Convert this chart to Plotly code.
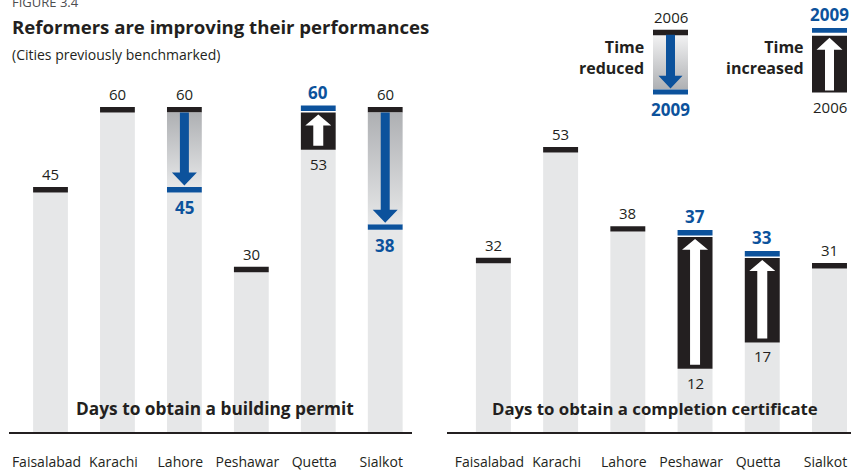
import plotly.graph_objects as go

# Days to obtain a building permit / completion certificate, 2006 vs 2009
cities = ["Faisalabad", "Karachi", "Lahore", "Peshawar", "Quetta", "Sialkot"]
permit_2006 = [45, 60, 60, 30, 53, 60]
permit_2009 = [45, 60, 45, 30, 60, 38]
cert_2006 = [32, 53, 38, 12, 17, 31]
cert_2009 = [32, 53, 38, 37, 33, 31]

W, H = 851, 471
INK = "#231f20"
BLUE = "#0c529c"
GRAY = "#e6e7e8"
SHADE = "#aeb0b3"
FONT = "Open Sans"
BAR_W = 0.52


def px(x):
    return x / W


def py(y):
    return 1 - y / H


def arrow(xc, start, tip, shaft, head, head_h):
    """Polygon for a block arrow running from start to tip (vertical)."""
    d = 1 if tip > start else -1
    neck = tip - d * head_h
    xs = [xc - shaft, xc + shaft, xc + shaft, xc + head, xc, xc - head, xc - shaft, xc - shaft]
    ys = [start, start, neck, neck, tip, neck, neck, start]
    return xs, ys


fig = go.Figure()
annotations = []


def add_panel(v06, v09, xa, ya, ppx, ppy):
    xs = list(range(len(cities)))
    cap = 5.5 / ppy
    common = dict(xaxis=xa, yaxis=ya, hoverinfo="skip", showlegend=False)
    bar_style = dict(width=BAR_W, marker_line_width=0, **common)

    # light gray body up to the lower of the two values
    fig.add_trace(go.Bar(x=xs, y=[min(a, b) for a, b in zip(v06, v09)],
                         marker_color=GRAY, **bar_style))

    black_x, black_base = [], []
    blue_x, blue_base = [], []
    box_x, box_base, box_h = [], [], []
    for i, (a, b) in enumerate(zip(v06, v09)):
        if a > b:
            # time reduced: shaded span, black cap at 2006, blue arrow to 2009
            lo = b + cap
            fig.add_trace(go.Scatter(
                x=[i - BAR_W / 2, i + BAR_W / 2, i + BAR_W / 2, i - BAR_W / 2, i - BAR_W / 2],
                y=[lo, lo, a, a, lo], mode="lines", line_width=0, fill="toself",
                fillgradient=dict(type="vertical", colorscale=[[0, GRAY], [1, SHADE]]),
                **common))
            black_x.append(i); black_base.append(a)
            blue_x.append(i); blue_base.append(b)
            ax, ay = arrow(i, a, b + cap + 1.5 / ppy, 4.5 / ppx, 12.5 / ppx, 13 / ppy)
            fig.add_trace(go.Scatter(x=ax, y=ay, mode="lines", line_width=0, fill="toself",
                                     fillcolor=BLUE, **common))
            annotations.append(dict(x=i, y=a + cap, xref=xa, yref=ya, text=str(a),
                                    yanchor="bottom", yshift=1, showarrow=False,
                                    font=dict(size=15, color=INK)))
            annotations.append(dict(x=i, y=b, xref=xa, yref=ya, text="<b>%d</b>" % b,
                                    yanchor="top", yshift=-2, showarrow=False,
                                    font=dict(size=17, color=BLUE)))
        elif b > a:
            # time increased: black box from 2006 up to 2009, white arrow
            box_x.append(i); box_base.append(a); box_h.append(b - a)
            blue_x.append(i); blue_base.append(b + 1.5 / ppy)
            ax, ay = arrow(i, a + 4 / ppy, b - 2 / ppy, 5 / ppx, 13 / ppx, 11 / ppy)
            fig.add_trace(go.Scatter(x=ax, y=ay, mode="lines", line_width=0, fill="toself",
                                     fillcolor="white", **common))
            annotations.append(dict(x=i, y=b + cap + 1.5 / ppy, xref=xa, yref=ya,
                                    text="<b>%d</b>" % b, yanchor="bottom", yshift=0,
                                    showarrow=False, font=dict(size=17, color=BLUE)))
            annotations.append(dict(x=i, y=a, xref=xa, yref=ya, text=str(a),
                                    yanchor="top", yshift=-2, showarrow=False,
                                    font=dict(size=15, color=INK)))
        else:
            black_x.append(i); black_base.append(a)
            annotations.append(dict(x=i, y=a + cap, xref=xa, yref=ya, text=str(a),
                                    yanchor="bottom", yshift=1, showarrow=False,
                                    font=dict(size=15, color=INK)))

    if box_x:
        fig.add_trace(go.Bar(x=box_x, y=box_h, base=box_base, marker_color=INK, **bar_style))
    fig.add_trace(go.Bar(x=black_x, y=[cap] * len(black_x), base=black_base,
                         marker_color=INK, **bar_style))
    fig.add_trace(go.Bar(x=blue_x, y=[cap] * len(blue_x), base=blue_base,
                         marker_color=BLUE, **bar_style))


PPY_L, PPY_R = 5.35, 5.3
add_panel(permit_2006, permit_2009, "x", "y", 67, PPY_L)
add_panel(cert_2006, cert_2009, "x2", "y2", 67.2, PPY_R)

# legend key drawn in a pixel-space overlay
LA = dict(xaxis="x3", yaxis="y3", hoverinfo="skip", showlegend=False)


def key_rect(x0, x1, y0, y1, color, grad=None):
    sc = go.Scatter(x=[x0, x1, x1, x0, x0], y=[y0, y0, y1, y1, y0], mode="lines",
                    line_width=0, fill="toself", fillcolor=color, **LA)
    if grad:
        sc.fillgradient = dict(type="vertical", colorscale=grad)
    fig.add_trace(sc)


# time reduced key
key_rect(653, 688, 35, 90, GRAY, [[0, SHADE], [1, "#f2f2f3"]])
key_rect(653, 688, 30, 35.5, INK)
key_rect(653, 688, 90, 95, BLUE)
kx, ky = arrow(670.5, 35, 89, 4.5, 12, 13)
fig.add_trace(go.Scatter(x=kx, y=ky, mode="lines", line_width=0, fill="toself", fillcolor=BLUE, **LA))
# time increased key
key_rect(812, 847, 36, 93, INK)
key_rect(812, 847, 28, 33, BLUE)
kx, ky = arrow(829.5, 91, 38, 4.5, 13, 12)
fig.add_trace(go.Scatter(x=kx, y=ky, mode="lines", line_width=0, fill="toself", fillcolor="white", **LA))


def label(x, y, text, size, color=INK, xanchor="center", yanchor="middle", align="center"):
    annotations.append(dict(x=px(x), y=py(y), xref="paper", yref="paper", text=text,
                            xanchor=xanchor, yanchor=yanchor, align=align, showarrow=False,
                            font=dict(size=size, color=color)))


label(670.5, 17, "2006", 15)
label(670.5, 110, "<b>2009</b>", 17, BLUE)
label(646, 58, "<b>Time<br>reduced</b>", 16, xanchor="right", align="right")
label(829.5, 15, "<b>2009</b>", 17, BLUE)
label(829.5, 107, "2006", 15)
label(806, 58, "<b>Time<br>increased</b>", 16, xanchor="right", align="right")

label(10, 2, "FIGURE 3.4", 13, "#4d4d4f", xanchor="left")
label(10, 27, "<b>Reformers are improving their performances</b>", 18.6, xanchor="left")
label(10, 55, "(Cities previously benchmarked)", 14, xanchor="left")
label(215, 410, "<b>Days to obtain a building permit</b>", 17.3)
label(655, 410, "<b>Days to obtain a completion certificate</b>", 16.8)

xcommon = dict(tickvals=list(range(len(cities))), ticktext=cities, showline=True,
               linecolor=INK, linewidth=1.5, showgrid=False, zeroline=False, ticks="",
               ticklabelstandoff=16, ticklabelshift=-4, fixedrange=True,
               tickfont=dict(size=14, color=INK))
ydomain = [py(434), py(80)]
ycommon = dict(domain=ydomain, visible=False, fixedrange=True)

fig.update_layout(
    width=W, height=H,
    margin=dict(l=0, r=0, t=0, b=0),
    paper_bgcolor="white",
    plot_bgcolor="rgba(0,0,0,0)",
    font=dict(family=FONT, color=INK),
    barmode="overlay",
    xaxis=dict(domain=[px(9), px(412)], range=[-0.62, 5.40], anchor="y", **xcommon),
    yaxis=dict(range=[0, 354 / PPY_L], anchor="x", **ycommon),
    xaxis2=dict(domain=[px(447), 1], range=[-0.69, 5.32], anchor="y2", **xcommon),
    yaxis2=dict(range=[0, 354 / PPY_R], anchor="x2", **ycommon),
    xaxis3=dict(domain=[0, 1], range=[0, W], anchor="y3", visible=False, fixedrange=True),
    yaxis3=dict(domain=[0, 1], range=[H, 0], anchor="x3", visible=False, fixedrange=True),
    annotations=annotations,
)

# the page's default 8px body margin would push the figure off the window
fig.write_html("out.html", config={"displayModeBar": False},
               post_script="document.body.style.margin='0px';")
